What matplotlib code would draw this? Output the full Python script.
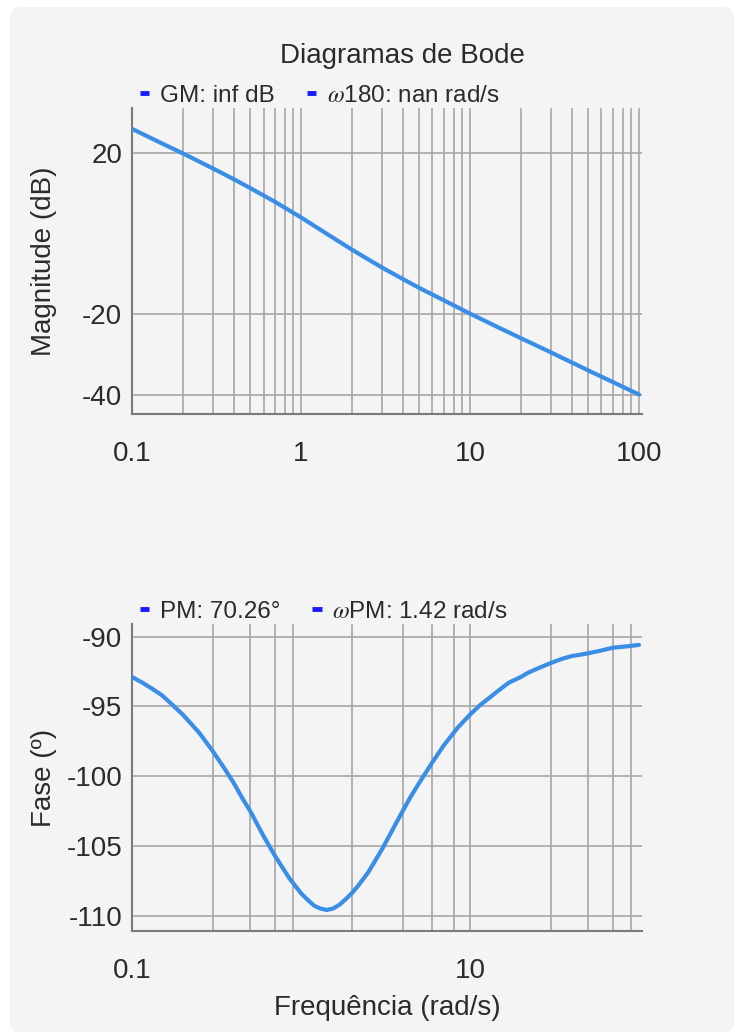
import matplotlib
matplotlib.use("Agg")
from matplotlib import pyplot as plt
from matplotlib.lines import Line2D
from matplotlib.patches import FancyBboxPatch
from matplotlib.ticker import FixedLocator, NullFormatter

plt.rcParams['font.family'] = ['Liberation Sans', 'DejaVu Sans']
plt.rcParams['mathtext.fontset'] = 'stix'

# magnitude (dB)
freq_mag = [0.1, 0.15, 0.2, 0.3, 0.4, 0.5, 0.7, 1, 1.5, 2, 3, 4, 5, 7, 10, 15, 20, 30, 50, 70, 100]
mag_db = [26.0, 22.4, 19.9, 16.2, 13.5, 11.3, 7.9, 4.0, -0.7, -4.0, -8.4, -11.3, -13.5, -16.6,
          -19.9, -23.5, -26.0, -29.5, -34.0, -36.9, -40.0]

# phase (deg)
freq_ph = [0.1, 0.115, 0.13, 0.15, 0.17, 0.2, 0.25, 0.3, 0.35, 0.4, 0.45, 0.5, 0.6, 0.7, 0.85,
           1, 1.1, 1.2, 1.3, 1.42, 1.55, 1.7, 1.85, 2, 2.2, 2.5, 3, 3.5, 4, 4.5, 5, 6, 7, 8.5,
           10, 11.5, 13, 15, 17, 20, 22, 25, 30, 35, 40, 45, 50, 60, 70, 85, 100]
phase = [-92.9, -93.3, -93.7, -94.2, -94.8, -95.6, -96.9, -98.2, -99.4, -100.5, -101.6, -102.5,
         -104.3, -105.7, -107.3, -108.4, -108.9, -109.3, -109.5, -109.6, -109.5, -109.2, -108.8,
         -108.4, -107.8, -106.9, -105.3, -103.8, -102.5, -101.4, -100.5, -99.0, -97.8, -96.5,
         -95.6, -94.9, -94.4, -93.8, -93.3, -92.9, -92.6, -92.3, -91.9, -91.6, -91.4, -91.3,
         -91.2, -91.0, -90.8, -90.7, -90.6]

mag_ticks = [20, -20, -40]
phase_ticks = [-90, -95, -100, -105, -110]
mag_xticks = [0.1, 1, 10, 100]
phase_xticks = [0.1, 10]
mag_xgrid = [m * d for d in (0.1, 1, 10) for m in range(2, 10)] + [1, 10, 100]
phase_xgrid = [0.3, 0.5, 0.7, 0.9, 2, 4, 6, 8, 10, 30, 50, 70, 90]

legend_top = ['GM: inf dB', r'$\omega$180: nan rad/s']
legend_bottom = ['PM: 70.26°', r'$\omega$PM: 1.42 rad/s']

bg = '#f4f4f4'
txt = '#2b2b2b'
curve = '#3a8ee6'
grid = '#a6a6a6'

fig = plt.figure(figsize=(7.35, 10.34), dpi=100)
fig.patch.set_facecolor('white')
fig.patches.append(FancyBboxPatch((10 / 735, 2 / 1034), 724 / 735, 1025 / 1034,
                                  boxstyle='round,pad=0,rounding_size=0.012',
                                  transform=fig.transFigure, facecolor=bg, edgecolor='none',
                                  zorder=-10))

ax1 = fig.add_axes([132 / 735, 1 - 414 / 1034, 510 / 735, 306 / 1034])
ax2 = fig.add_axes([132 / 735, 1 - 931 / 1034, 510 / 735, 307 / 1034])


def style(ax, xgrid, xticks, yticks):
    ax.set_facecolor(bg)
    ax.set_xscale('log')
    ax.xaxis.set_major_locator(FixedLocator(xticks))
    ax.xaxis.set_minor_locator(FixedLocator(xgrid))
    ax.xaxis.set_minor_formatter(NullFormatter())
    ax.set_xticklabels([('%g' % t) for t in xticks])
    ax.set_yticks(yticks)
    ax.set_yticklabels([str(t) for t in yticks])
    ax.grid(False)
    for x in xgrid:
        ax.axvline(x, color=grid, lw=1.2, zorder=1)
    for y in yticks:
        ax.axhline(y, color=grid, lw=1.2, zorder=1)
    for s in ('top', 'right'):
        ax.spines[s].set_visible(False)
    for s in ('left', 'bottom'):
        ax.spines[s].set_color('#7a7a7a')
        ax.spines[s].set_linewidth(1.5)
    ax.tick_params(axis='both', which='both', length=0, labelsize=20, colors=txt)
    ax.tick_params(axis='x', pad=19.5)
    ax.tick_params(axis='y', pad=7)
    ax.yaxis.set_label_coords(-0.147, 0.5)


style(ax1, mag_xgrid, mag_xticks, mag_ticks)
ax1.plot(freq_mag, mag_db, color=curve, lw=3, zorder=3, solid_capstyle='round')
ax1.set_xlim(0.1, 104.2)
ax1.set_ylim(-44.84, 31.18)
ax1.set_ylabel('Magnitude (dB)', fontsize=20, color=txt)

style(ax2, phase_xgrid, phase_xticks, phase_ticks)
ax2.plot(freq_ph, phase, color=curve, lw=3, zorder=3, solid_capstyle='round',
         solid_joinstyle='round')
ax2.set_xlim(0.1, 104.2)
ax2.set_ylim(-111.11, -89.1)
ax2.set_ylabel('Fase (º)', fontsize=20, color=txt)
ax2.set_xlabel('Frequência (rad/s)', fontsize=20, color=txt, labelpad=8)

for ax, labels, yy in ((ax1, legend_top, 1.040), (ax2, legend_bottom, 1.040)):
    handles = [Line2D([], [], color='#1a1aff', lw=3.5, solid_capstyle='butt') for _ in labels]
    leg = ax.legend(handles, labels, loc='center left', bbox_to_anchor=(0.0157, yy), ncol=2,
                    frameon=False, fontsize=17.5, handlelength=0.38, handletextpad=0.45,
                    columnspacing=1.3, borderpad=0, borderaxespad=0)
    for t in leg.get_texts():
        t.set_color(txt)

fig.text(402 / 735, 1 - 56 / 1034, 'Diagramas de Bode', fontsize=20, color=txt,
         ha='center', va='center')

fig.savefig('out.png', dpi=100, facecolor='white')
